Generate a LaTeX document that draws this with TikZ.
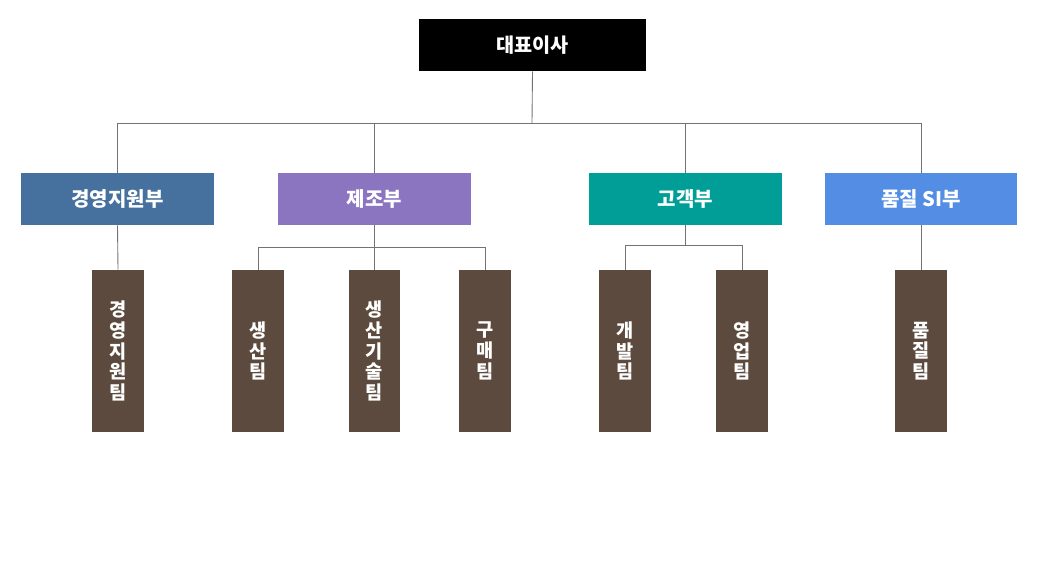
\documentclass[tikz,border=0pt]{standalone}
\usepackage{fontspec}
\newfontfamily\kr{Noto Sans CJK KR}
\usetikzlibrary{positioning}
\definecolor{ceoblack}{HTML}{000000}
\definecolor{deptsteel}{HTML}{46709E}
\definecolor{deptviolet}{HTML}{8B74C0}
\definecolor{deptteal}{HTML}{009E96}
\definecolor{deptsky}{HTML}{548DE4}
\definecolor{teambrown}{HTML}{5B4A3D}
\colorlet{wire}{black!55}

\begin{document}
\begin{tikzpicture}[x=0.02cm, y=-0.02cm,
  ceobox/.style={fill=ceoblack, text=white, inner sep=0pt,
    minimum width=4.54cm, minimum height=1.04cm, font=\kr\bfseries\fontsize{11.2}{13}\selectfont},
  deptbox/.style={fill=#1, text=white, inner sep=0pt,
    minimum width=3.86cm, minimum height=1.04cm, font=\kr\bfseries\fontsize{11.4}{13}\selectfont},
  teambox/.style={fill=teambrown, text=white, inner sep=0pt, align=center,
    minimum width=1.04cm, minimum height=3.24cm, font=\kr\bfseries\fontsize{10.6}{11.8}\selectfont},
  link/.style={draw=wire, line width=0.5pt}]
  \useasboundingbox (0,0) rectangle (1049,562);
  % top
  \node[ceobox] (ceo) at (532.5,45) {대표이사};
  \coordinate (bus) at (532,123);
  % departments
  \node[deptbox=deptsteel] (mgmt) at (117.5,199) {경영지원부};
  \node[deptbox=deptviolet] (mfg) at (374.5,199) {제조부};
  \node[deptbox=deptteal] (cust) at (685.5,199) {고객부};
  \node[deptbox=deptsky] (qual) at (921,199) {품질 SI부};
  % teams
  \node[teambox] (mgmtteam) at (118,351) {경\\영\\지\\원\\팀};
  \node[teambox] (prod) at (258,351) {생\\산\\팀};
  \node[teambox] (prodtech) at (374.5,351) {생\\산\\기\\술\\팀};
  \node[teambox] (buy) at (485,351) {구\\매\\팀};
  \node[teambox] (dev) at (625,351) {개\\발\\팀};
  \node[teambox] (sales) at (742,351) {영\\업\\팀};
  \node[teambox] (qualteam) at (921,351) {품\\질\\팀};
  \coordinate (mfgbus) at (374.5,247);
  \coordinate (custbus) at (685.5,245);
  % connectors
  \draw[link] (ceo.south) -- (bus);
  \draw[link] (bus) -| (mgmt.north);
  \draw[link] (bus) -| (mfg.north);
  \draw[link] (bus) -| (cust.north);
  \draw[link] (bus) -| (qual.north);
  \draw[link] (mgmt.south) -- (mgmtteam.north);
  \draw[link] (mfg.south) -- (mfgbus);
  \draw[link] (mfgbus) -| (prod.north);
  \draw[link] (mfgbus) -- (prodtech.north);
  \draw[link] (mfgbus) -| (buy.north);
  \draw[link] (cust.south) -- (custbus);
  \draw[link] (custbus) -| (dev.north);
  \draw[link] (custbus) -| (sales.north);
  \draw[link] (qual.south) -- (qualteam.north);
\end{tikzpicture}
\end{document}
